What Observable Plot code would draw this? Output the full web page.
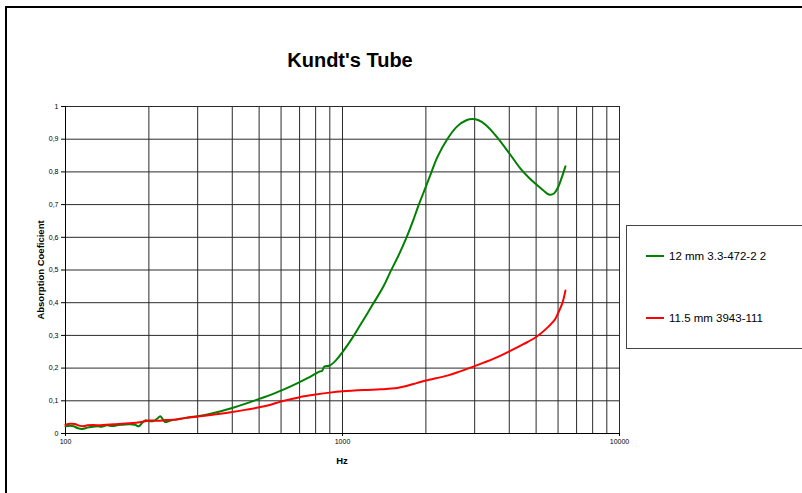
<!DOCTYPE html>
<html>
<head>
<meta charset="utf-8">
<script src="https://cdn.jsdelivr.net/npm/d3@7"></script>
<script src="https://cdn.jsdelivr.net/npm/@observablehq/plot@0.6"></script>
<style>
  html, body { margin: 0; padding: 0; background: #fff; overflow: hidden; }
  #wrap { position: relative; width: 802px; height: 493px; overflow: hidden; font-family: "Liberation Sans", Arial, sans-serif; }
  #border { position: absolute; left: 5px; top: 6px; width: 900px; height: 600px; border: 2px solid #000; box-sizing: border-box; pointer-events: none; }
  #title { position: absolute; left: 250px; width: 200px; top: 49px; text-align: center; font-weight: bold; font-size: 20px; }
  #ylab { position: absolute; left: 40px; top: 270px; transform: translate(-50%, -50%) rotate(-90deg); font-weight: bold; font-size: 9.5px; white-space: nowrap; }
  #xlab { position: absolute; left: 342px; top: 460px; transform: translate(-50%, -50%); font-weight: bold; font-size: 9.5px; }
  #legend { position: absolute; left: 626px; top: 225px; width: 200px; height: 124px; border: 1px solid #444; box-sizing: border-box; background: #fff; }
  .item { position: absolute; left: 19px; font-size: 11.5px; white-space: nowrap; }
  .sw { display: inline-block; width: 18px; height: 2px; vertical-align: middle; margin-right: 5px; position: relative; top: -1px; }
  svg { position: absolute; left: 0; top: 0; }
</style>
</head>
<body>
<div id="wrap">
  <div id="chart"></div>
  <div id="title">Kundt's Tube</div>
  <div id="ylab">Absorption Coeficient</div>
  <div id="xlab">Hz</div>
  <div id="legend"></div>
  <div id="border"></div>
</div>
<script>
// Series names and colours
const seriesNames = ["12 mm 3.3-472-2 2", "11.5 mm 3943-111"];
const seriesColors = ["#008000", "#ff0000"];

// Green series: 12 mm 3.3-472-2 2
const greenHz = [100,104,107,111,115,120,124,130,135,141,148,155,162,170,178,184,188,194,200,208,214,220,225,229,240,260,280,300,340,400,450,500,550,600,650,700,750,800,830,845,860,900,950,1000,1050,1100,1150,1211,1280,1400,1490,1600,1703,1800,1886,2000,2096,2200,2388,2600,2800,2940,3100,3300,3600,4000,4390,4700,5000,5300,5560,5800,6000,6200,6380];
const greenVal = [0.022,0.024,0.022,0.016,0.014,0.018,0.020,0.022,0.021,0.025,0.023,0.026,0.027,0.028,0.027,0.022,0.030,0.040,0.038,0.038,0.045,0.053,0.042,0.035,0.040,0.045,0.050,0.053,0.062,0.078,0.092,0.106,0.118,0.131,0.144,0.157,0.170,0.183,0.190,0.192,0.205,0.208,0.225,0.249,0.274,0.300,0.327,0.358,0.392,0.447,0.495,0.548,0.600,0.652,0.700,0.755,0.800,0.845,0.900,0.940,0.958,0.962,0.958,0.943,0.908,0.857,0.810,0.783,0.762,0.744,0.731,0.734,0.753,0.785,0.817];

// Red series: 11.5 mm 3943-111
const redHz = [100,104,108,112,116,120,126,132,140,150,160,170,180,190,200,215,230,246,260,280,300,350,400,450,500,550,600,650,700,800,900,1000,1200,1372,1576,1712,1850,2000,2388,2660,3000,3500,4000,4500,5000,5480,5870,6000,6210,6380];
const redVal = [0.027,0.030,0.029,0.024,0.022,0.025,0.026,0.025,0.027,0.028,0.030,0.031,0.033,0.036,0.040,0.039,0.041,0.042,0.045,0.049,0.052,0.059,0.066,0.073,0.080,0.088,0.098,0.105,0.111,0.119,0.125,0.129,0.133,0.135,0.139,0.146,0.154,0.162,0.177,0.190,0.206,0.228,0.251,0.273,0.295,0.323,0.351,0.368,0.397,0.437];

// Axis ticks and grid
const xTicks = [100, 1000, 10000];
const xGrid = [100,200,300,400,500,600,700,800,900,1000,2000,3000,4000,5000,6000,7000,8000,9000,10000];
const yTicks = [0,0.1,0.2,0.3,0.4,0.5,0.6,0.7,0.8,0.9,1];

const green = greenHz.map((f, i) => ({f, v: greenVal[i]}));
const red = redHz.map((f, i) => ({f, v: redVal[i]}));

const plot = Plot.plot({
  width: 802,
  height: 493,
  marginLeft: 65,
  marginRight: 183,
  marginTop: 106,
  marginBottom: 60,
  style: {fontFamily: "'Liberation Sans', Arial, sans-serif", fontSize: "7px", background: "transparent"},
  x: {type: "log", domain: [100, 10000]},
  y: {domain: [0, 1]},
  marks: [
    Plot.ruleX(xGrid, {stroke: "#2a2a2a", strokeWidth: 1}),
    Plot.ruleY(yTicks, {stroke: "#2a2a2a", strokeWidth: 1}),
    Plot.ruleX([100], {stroke: "#000", strokeWidth: 1}),
    Plot.ruleY([0], {stroke: "#000", strokeWidth: 1}),
    Plot.axisX({ticks: xTicks, tickFormat: d => String(d), tickSize: 3, tickPadding: 3, label: null, fontSize: 7}),
    Plot.axisY({ticks: yTicks, tickFormat: d => String(Math.round(d * 10) / 10).replace(".", ","), tickSize: 4, tickPadding: 3, label: null, fontSize: 7}),
    Plot.line(green, {x: "f", y: "v", stroke: seriesColors[0], strokeWidth: 2, curve: "catmull-rom"}),
    Plot.line(red, {x: "f", y: "v", stroke: seriesColors[1], strokeWidth: 2, curve: "catmull-rom"})
  ]
});
document.getElementById("chart").appendChild(plot);

const legend = document.getElementById("legend");
const tops = [24, 86];
seriesNames.forEach((name, i) => {
  const d = document.createElement("div");
  d.className = "item";
  d.style.top = tops[i] + "px";
  d.innerHTML = `<span class="sw" style="background:${seriesColors[i]}"></span>${name}`;
  legend.appendChild(d);
});
</script>
</body>
</html>
